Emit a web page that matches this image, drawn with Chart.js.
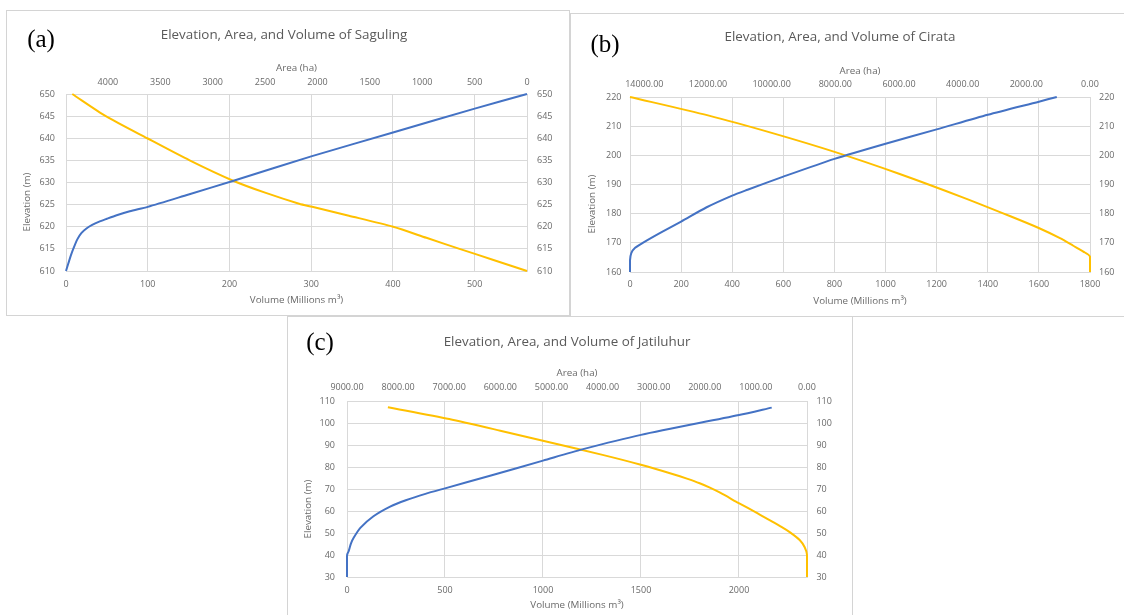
<!DOCTYPE html>
<html>
<head>
<meta charset="utf-8">
<script src="https://cdn.jsdelivr.net/npm/chart.js@4.4.1/dist/chart.umd.min.js"></script>
<style>
  html, body { margin: 0; padding: 0; background: #ffffff; }
  body { width: 1124px; height: 615px; position: relative; overflow: hidden; }
  .panel { position: absolute; background: #ffffff; box-shadow: 0 0 0 1px #d4d4d4; }
  canvas { display: block; }
</style>
</head>
<body>
<div class="panel" style="left:7px;top:11px;width:562px;height:304px;"><canvas id="chartA" width="562" height="304"></canvas></div>
<div class="panel" style="left:571px;top:14px;width:560px;height:302px;"><canvas id="chartB" width="553" height="302"></canvas></div>
<div class="panel" style="left:288px;top:317px;width:564px;height:310px;"><canvas id="chartC" width="564" height="298"></canvas></div>
<script>
// ---------------- DATA ----------------
// (a) Saguling
const sagulingVolume     = [0, 3, 6.5, 10, 14, 19, 25, 32, 40, 50, 62, 78, 100, 150, 205, 300, 400, 500, 564];
const sagulingVolumeElev = [610, 611.8, 613.8, 615.5, 617.2, 618.6, 619.6, 620.4, 621.1, 621.8, 622.6, 623.5, 624.5, 627.3, 630.4, 635.9, 641.3, 646.7, 650];
const sagulingArea       = [4340, 4020, 3625, 3220, 2805, 2500, 2175, 2050, 1700, 1277, 960, 644, 320, 0];
const sagulingAreaElev   = [650, 645, 640, 635, 630.4, 627.7, 625.2, 624.5, 622.5, 620, 617.5, 615, 612.5, 610];
const sagulingVolumeTicks = [0, 100, 200, 300, 400, 500];
const sagulingAreaTicks   = [0, 500, 1000, 1500, 2000, 2500, 3000, 3500, 4000];
const sagulingElevTicks   = [610, 615, 620, 625, 630, 635, 640, 645, 650];
const sagulingVolumeRange = [0, 564];
const sagulingAreaRange   = [0, 4400];
const sagulingElevRange   = [610, 650];

// (b) Cirata
const cirataVolume     = [0, 0, 5, 20, 50, 120, 200, 300, 400, 460, 600, 800, 1000, 1200, 1400, 1600, 1670];
const cirataVolumeElev = [160, 164, 166.5, 168.3, 170, 173.5, 177.3, 182.2, 186.2, 188.2, 192.7, 198.8, 204, 208.9, 213.9, 218.4, 220];
const cirataArea       = [14450, 12000, 10000, 8000, 6000, 4000, 2500, 1593, 943, 525, 210, 0, 0];
const cirataAreaElev   = [220, 213.7, 207.7, 201.1, 193.7, 185.6, 179.1, 175, 171.6, 169, 167, 165.3, 160];
const cirataVolumeTicks = [0, 200, 400, 600, 800, 1000, 1200, 1400, 1600, 1800];
const cirataAreaTicks   = [0, 2000, 4000, 6000, 8000, 10000, 12000, 14000];
const cirataElevTicks   = [160, 170, 180, 190, 200, 210, 220];
const cirataVolumeRange = [0, 1800];
const cirataAreaRange   = [0, 14450];
const cirataElevRange   = [160, 220];

// (c) Jatiluhur
const jatiluhurVolume     = [0, 0, 2, 8.5, 20, 34, 68, 135, 220, 300, 400, 500, 730, 1000, 1200, 1500, 2000, 2167];
const jatiluhurVolumeElev = [30, 39.4, 40.5, 41.7, 45.2, 47.8, 52.3, 57.6, 62.0, 64.9, 67.8, 70.3, 76.0, 82.9, 88.0, 94.6, 103.6, 107];
const jatiluhurArea       = [8200, 7000, 6000, 5000, 4000, 3250, 2600, 2350, 2100, 1900, 1700, 1335, 1000, 750, 500, 338, 143, 45, 0, 0];
const jatiluhurAreaElev   = [107.2, 101.8, 96.5, 91.0, 85.5, 81.0, 76.6, 74.7, 72.6, 70.6, 68.3, 63.6, 59.4, 56.1, 52.8, 50.4, 46.8, 43.5, 40, 30];
const jatiluhurVolumeTicks = [0, 500, 1000, 1500, 2000];
const jatiluhurAreaTicks   = [0, 1000, 2000, 3000, 4000, 5000, 6000, 7000, 8000, 9000];
const jatiluhurElevTicks   = [30, 40, 50, 60, 70, 80, 90, 100, 110];
const jatiluhurVolumeRange = [0, 2347];
const jatiluhurAreaRange   = [0, 9000];
const jatiluhurElevRange   = [30, 110];

// ---------------- STYLE ----------------
const BLUE = '#4472C4';
const YELLOW = '#FFC000';
const GRID = '#d9d9d9';
const TEXT = '#6a6a6a';
const FONT = '"Open Sans", "Liberation Sans", sans-serif';

function pairs(xs, ys) { return xs.map((x, i) => ({ x: x, y: ys[i] })); }
function fixedTicks(arr) { return function (scale) { scale.ticks = arr.map(v => ({ value: v })); }; }
function fmt(dec) { return function (v) { return dec ? Number(v).toFixed(dec) : String(v); }; }

const panelText = {
  id: 'panelText',
  afterDraw(chart, args, o) {
    const c = chart.ctx;
    c.save();
    c.textAlign = 'center';
    c.textBaseline = 'middle';
    c.fillStyle = '#595959';
    c.font = '13.4px ' + FONT;
    c.fillText(o.title, o.titleX, o.titleY);
    c.fillStyle = '#000000';
    c.font = '25px "Liberation Serif", "DejaVu Serif", serif';
    c.fillText(o.letter, o.letterX, o.letterY);
    c.translate(o.yTitleX, o.yTitleY);
    c.rotate(-Math.PI / 2);
    c.fillStyle = TEXT;
    c.font = '9.8px ' + FONT;
    c.fillText('Elevation (m)', 0, 0);
    c.restore();
  }
};

function build(id, p) {
  const tickFont = { family: FONT, size: 9 };
  const titleFont = { family: FONT, size: 9.8 };
  return new Chart(document.getElementById(id), {
    type: 'scatter',
    data: {
      datasets: [
        { label: 'Volume', data: pairs(p.vol, p.volElev), xAxisID: 'x', yAxisID: 'y',
          borderColor: BLUE, backgroundColor: BLUE, showLine: true, clip: 4 },
        { label: 'Area', data: pairs(p.area, p.areaElev), xAxisID: 'x2', yAxisID: 'y',
          borderColor: YELLOW, backgroundColor: YELLOW, showLine: true, clip: 4 }
      ]
    },
    options: {
      responsive: false,
      animation: false,
      devicePixelRatio: 1,
      layout: { padding: 0 },
      elements: { point: { radius: 0, hoverRadius: 0 }, line: { borderWidth: 2, tension: 0.25, fill: false } },
      plugins: {
        legend: { display: false },
        tooltip: { enabled: false },
        panelText: p.text
      },
      scales: {
        x: {
          type: 'linear', position: 'bottom', min: p.volRange[0], max: p.volRange[1],
          afterBuildTicks: fixedTicks(p.volTicks),
          afterFit: s => { s.height = p.L.bottom; },
          grid: { color: GRID, drawTicks: false },
          border: { color: GRID },
          ticks: { padding: p.L.padBottom, color: TEXT, font: tickFont, maxRotation: 0, autoSkip: false, callback: fmt(0) },
          title: { display: true, text: 'Volume (Millions m³)', color: TEXT, font: titleFont, padding: { top: 0, bottom: p.L.titleBottom } }
        },
        x2: {
          type: 'linear', position: 'top', reverse: true, min: p.areaRange[0], max: p.areaRange[1],
          afterBuildTicks: fixedTicks(p.areaTicks),
          afterFit: s => { s.height = p.L.top; },
          grid: { display: false, drawTicks: false },
          border: { color: GRID },
          ticks: { padding: p.L.padTop, color: TEXT, font: tickFont, maxRotation: 0, autoSkip: false, callback: fmt(p.areaDec) },
          title: { display: true, text: 'Area (ha)', color: TEXT, font: titleFont, padding: { top: p.L.titleTop, bottom: 0 } }
        },
        y: {
          type: 'linear', position: 'left', min: p.elevRange[0], max: p.elevRange[1],
          afterBuildTicks: fixedTicks(p.elevTicks),
          afterFit: s => { s.width = p.L.left; },
          grid: { color: GRID, drawTicks: false },
          border: { color: GRID },
          ticks: { padding: p.L.padLeft, color: TEXT, font: tickFont, autoSkip: false, callback: fmt(0) }
        },
        y2: {
          type: 'linear', position: 'right', min: p.elevRange[0], max: p.elevRange[1],
          afterBuildTicks: fixedTicks(p.elevTicks),
          afterFit: s => { s.width = p.L.right; },
          grid: { display: false, drawTicks: false },
          border: { color: GRID },
          ticks: { padding: p.L.padRight, color: TEXT, font: tickFont, autoSkip: false, callback: fmt(0) }
        }
      }
    },
    plugins: [panelText]
  });
}

build('chartA', {
  vol: sagulingVolume, volElev: sagulingVolumeElev, area: sagulingArea, areaElev: sagulingAreaElev,
  volTicks: sagulingVolumeTicks, areaTicks: sagulingAreaTicks, elevTicks: sagulingElevTicks,
  volRange: sagulingVolumeRange, areaRange: sagulingAreaRange, elevRange: sagulingElevRange, areaDec: 0,
  L: { left: 59, right: 42, top: 83, bottom: 44, padTop: 6.5, padBottom: 8, padLeft: 11, padRight: 10, titleTop: 51.5, titleBottom: 9 },
  text: { title: 'Elevation, Area, and Volume of Saguling', titleX: 277, titleY: 24, letter: '(a)', letterX: 34, letterY: 29, yTitleX: 20, yTitleY: 191 }
});

build('chartB', {
  vol: cirataVolume, volElev: cirataVolumeElev, area: cirataArea, areaElev: cirataAreaElev,
  volTicks: cirataVolumeTicks, areaTicks: cirataAreaTicks, elevTicks: cirataElevTicks,
  volRange: cirataVolumeRange, areaRange: cirataAreaRange, elevRange: cirataElevRange, areaDec: 2,
  L: { left: 59, right: 34, top: 83, bottom: 44, padTop: 7, padBottom: 7.5, padLeft: 8.5, padRight: 9, titleTop: 51, titleBottom: 9 },
  text: { title: 'Elevation, Area, and Volume of Cirata', titleX: 269, titleY: 23, letter: '(b)', letterX: 34, letterY: 31, yTitleX: 21, yTitleY: 190 }
});

build('chartC', {
  vol: jatiluhurVolume, volElev: jatiluhurVolumeElev, area: jatiluhurArea, areaElev: jatiluhurAreaElev,
  volTicks: jatiluhurVolumeTicks, areaTicks: jatiluhurAreaTicks, elevTicks: jatiluhurElevTicks,
  volRange: jatiluhurVolumeRange, areaRange: jatiluhurAreaRange, elevRange: jatiluhurElevRange, areaDec: 2,
  L: { left: 59, right: 45, top: 84, bottom: 38, padTop: 8, padBottom: 7.6, padLeft: 12, padRight: 9.4, titleTop: 50.5, titleBottom: 4 },
  text: { title: 'Elevation, Area, and Volume of Jatiluhur', titleX: 279, titleY: 25, letter: '(c)', letterX: 32, letterY: 26, yTitleX: 20, yTitleY: 192 }
});
</script>
</body>
</html>
